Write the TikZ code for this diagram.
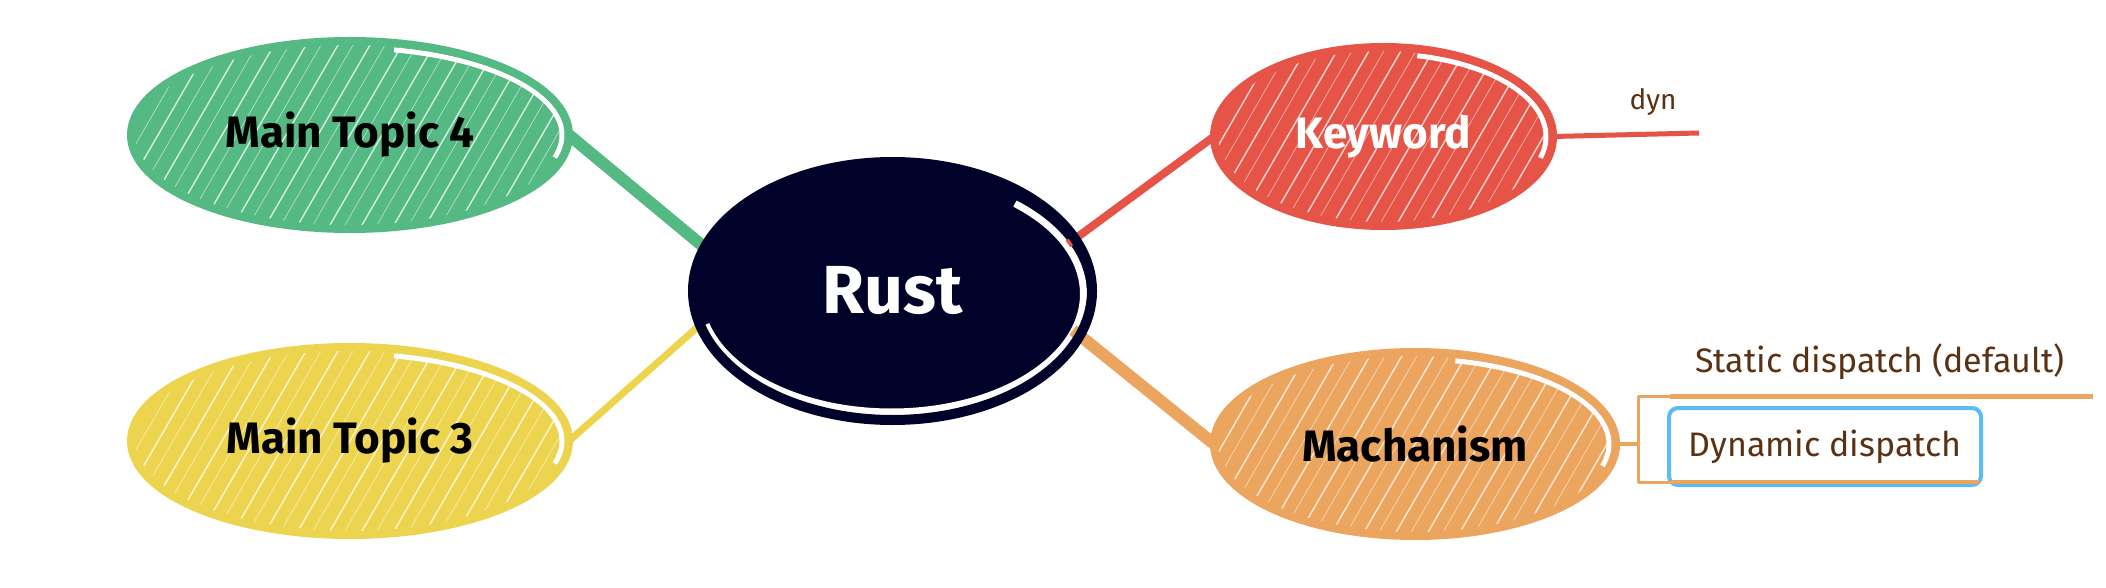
\documentclass[tikz,border=0pt]{standalone}
\usepackage{fontspec}
\setmainfont{Fira Sans}
\usetikzlibrary{shapes.geometric,calc}
\definecolor{cgreen}{HTML}{55B984}
\definecolor{cyellow}{HTML}{EDD44F}
\definecolor{cred}{HTML}{E55447}
\definecolor{corange}{HTML}{EBA55E}
\definecolor{cnavy}{HTML}{000229}
\definecolor{cbrown}{HTML}{5A3112}
\definecolor{cblue}{HTML}{5EB9F7}
\tikzset{
  topicnode/.style n args={3}{ellipse, inner sep=0pt, outer sep=0pt,
    minimum width=#1pt, minimum height=#2pt, fill=#3, draw=#3, line width=8pt,
    font=\fontsize{44}{50}\selectfont\bfseries,
    path picture={
      \pgfmathsetmacro\hrx{#1/2-7}
      \pgfmathsetmacro\hry{#2/2-7}
      \foreach \i in {-12,...,12}{
        \draw[white, line width=1.4pt, opacity=.75]
          ($(path picture bounding box.center)+(\i*32pt,0pt)+(-130pt,-225pt)$) -- ++(260pt,450pt);
        \draw[white, line width=0.7pt, opacity=.55]
          ($(path picture bounding box.center)+(\i*32pt+15pt,0pt)+(-130pt,-225pt)$) -- ++(260pt,450pt);
      }
      \draw[white, line width=5pt]
        ($(path picture bounding box.center)+(78:\hrx pt and \hry pt)$)
        arc[start angle=78, end angle=-15, x radius=\hrx pt, y radius=\hry pt];
    }},
  rustnode/.style={ellipse, inner sep=0pt, outer sep=0pt,
    minimum width=399pt, minimum height=258pt, fill=cnavy, draw=none, text=white,
    font=\fontsize{68}{80}\selectfont\bfseries,
    path picture={
      \draw[white, line width=7pt]
        ($(path picture bounding box.center)+(-1pt,-3pt)+(50:192pt and 118pt)$)
        arc[start angle=50, end angle=-165, x radius=192pt, y radius=118pt];
    }},
  leaftext/.style={text=cbrown, inner sep=0pt},
  branch/.style={line cap=butt, line join=round}
}
\begin{document}
\begin{tikzpicture}[x=1pt, y=-1pt]
\useasboundingbox (0,0) rectangle (2106,588);
\fill[white] (0,0) rectangle (2106,588);

% central topic (fill)
\node[rustnode] (rust) at (892.5,291) {Rust};

\coordinate (redend) at (1068,244);
\coordinate (orend) at (1073,330);

% reference shapes for connector ends
\path (350,135) node[ellipse, minimum width=438pt, minimum height=188pt, inner sep=0pt, outer sep=0pt] (mt4p) {};
\path (350,441) node[ellipse, minimum width=438pt, minimum height=188pt, inner sep=0pt, outer sep=0pt] (mt3p) {};
\path (1383.5,136.5) node[ellipse, minimum width=339pt, minimum height=179pt, inner sep=0pt, outer sep=0pt] (kwp) {};
\path (1415,444) node[ellipse, minimum width=402pt, minimum height=184pt, inner sep=0pt, outer sep=0pt] (macp) {};

% connectors
\draw[branch, cgreen, line width=12pt] (mt4p.east) -- (rust.167);
\draw[branch, cyellow, line width=7pt] (mt3p.east) -- (rust.190);
\draw[branch, cred, line width=8pt] (kwp.west) -- (redend);
\draw[branch, corange, line width=12pt] (macp.west) -- (orend);

% central topic outline
\draw[cnavy, line width=10pt] (rust.center) ellipse[x radius=199.5pt, y radius=129pt];

% main topics
\node[topicnode={438}{188}{cgreen}, text=black] (mt4) at (350,135) {Main Topic 4};
\node[topicnode={438}{188}{cyellow}, text=black] (mt3) at (350,441) {Main Topic 3};
\node[topicnode={339}{179}{cred}, text=white] (kw) at (1383.5,136.5) {Keyword};
\node[topicnode={402}{184}{corange}, text=black] (mac) at (1415,444) {Machanism};

% keyword subtopic
\coordinate (dynend) at (1699,133);
\draw[branch, cred, line width=5pt] (kw.east) -- (dynend);
\node[leaftext, font=\fontsize{28}{32}\selectfont] (dyn) at (1653,102) {dyn};

% machanism subtopics
\node[leaftext, font=\fontsize{34}{40}\selectfont] (static) at (1880,362) {Static dispatch (default)};
\node[leaftext, draw=cblue, line width=4pt, rounded corners=9pt, minimum width=312pt,
      minimum height=77pt, font=\fontsize{34}{40}\selectfont] (dd) at (1825,446.5) {Dynamic dispatch};
\coordinate (bk) at (1638,444);
\coordinate (stL) at (1670,396);
\coordinate (stR) at (2093,396);
\coordinate (ddL) at (1672,482);
\coordinate (ddR) at (1979,482);
\draw[branch, corange, line width=4pt] (mac.east) -- (bk);
\draw[branch, corange, line width=3pt] (stL) -| (bk) |- (ddL);
\draw[branch, corange, line width=5pt] (stL) -- (stR);
\draw[branch, corange, line width=4pt] (ddL) -- (ddR);
\end{tikzpicture}
\end{document}
